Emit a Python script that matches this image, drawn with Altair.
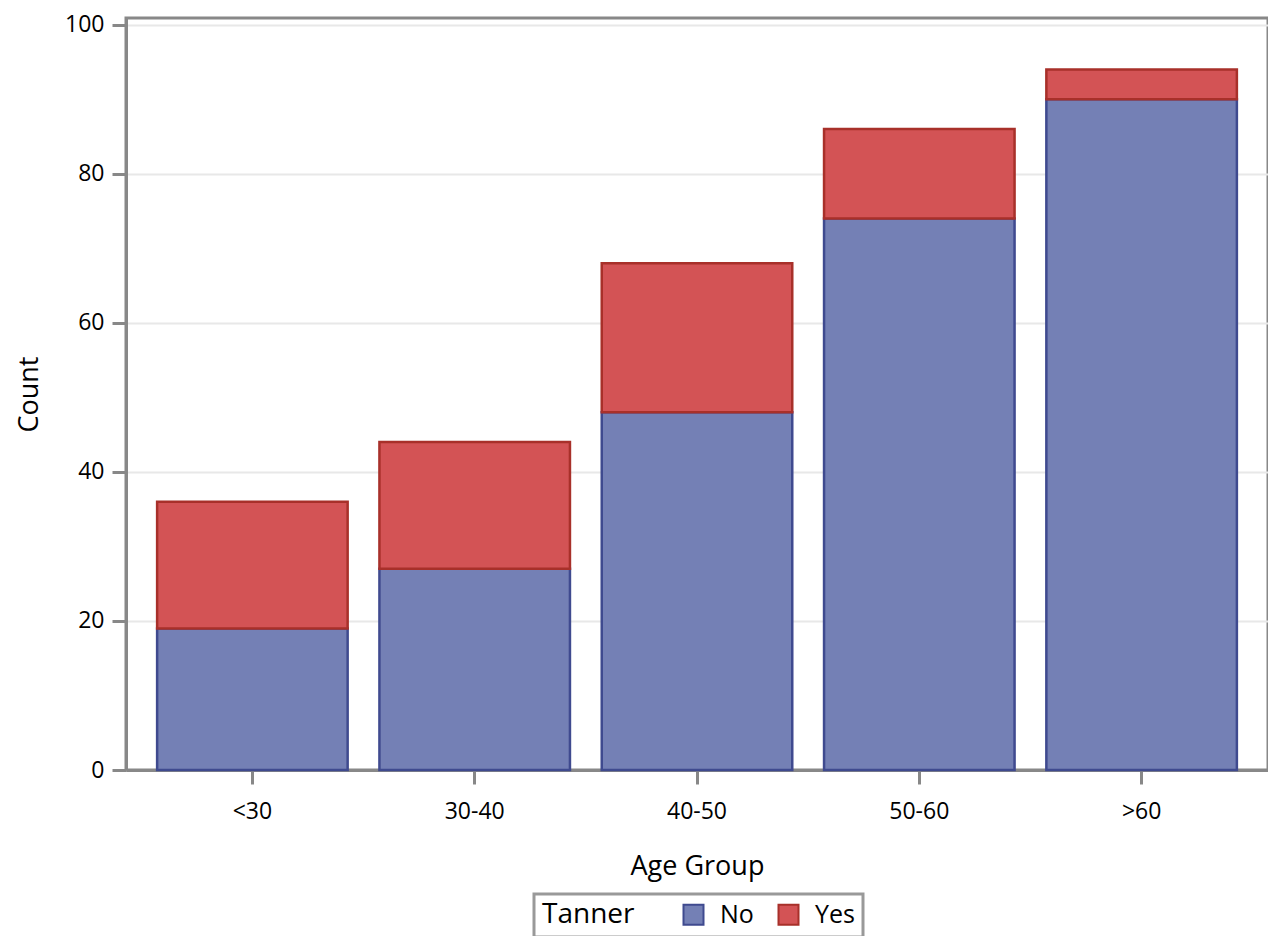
import altair as alt
import pandas as pd

age_groups = ["<30", "30-40", "40-50", "50-60", ">60"]
no_counts = [19, 27, 48, 74, 90]
yes_counts = [17, 17, 20, 12, 4]
tanner_levels = ["No", "Yes"]

rows = []
for g, n, y in zip(age_groups, no_counts, yes_counts):
    rows.append({"Age Group": g, "Tanner": "No", "Count": n})
    rows.append({"Age Group": g, "Tanner": "Yes", "Count": y})
df = pd.DataFrame(rows)

FONT = "Open Sans"
fill_scale = alt.Scale(domain=tanner_levels, range=["#7480b5", "#d35355"])
stroke_scale = alt.Scale(domain=tanner_levels, range=["#3f4a8f", "#a8302a"])

leg = alt.Legend(title="Tanner", orient="none", legendX=408, legendY=876,
                 direction="horizontal", titleOrient="left")

chart = alt.Chart(df).mark_bar(strokeWidth=2.5, opacity=1).encode(
    x=alt.X("Age Group:N", sort=age_groups,
            scale=alt.Scale(paddingInner=0.143, paddingOuter=0.14),
            axis=alt.Axis(title="Age Group", labelAngle=0, labelPadding=16,
                          titlePadding=30, grid=False)),
    y=alt.Y("Count:Q", stack="zero",
            scale=alt.Scale(domain=[0, 100.9], nice=False),
            axis=alt.Axis(title="Count", values=[0, 20, 40, 60, 80, 100],
                          labelPadding=8, titlePadding=21)),
    fill=alt.Fill("Tanner:N", scale=fill_scale, legend=leg),
    stroke=alt.Stroke("Tanner:N", scale=stroke_scale, legend=leg),
    order=alt.Order("Tanner:N", sort="ascending"),
).properties(
    width=1142, height=752,
    autosize=alt.AutoSizeParams(type="none"),
    padding={"left": 118, "top": 10, "right": 0, "bottom": 166},
).configure_view(
    stroke="#888888", strokeWidth=3,
).configure_axis(
    labelFont=FONT, titleFont=FONT, labelFontSize=23, titleFontSize=27,
    titleFontWeight="normal", labelColor="#000000", titleColor="#000000",
    domainColor="#888888", domainWidth=3, tickColor="#888888", tickWidth=3,
    tickSize=14, gridColor="#e8e8e8", gridWidth=2,
).configure_legend(
    labelFont=FONT, titleFont=FONT, labelFontSize=25, titleFontSize=28,
    titleFontWeight="normal", labelColor="#000000", titleColor="#000000",
    strokeColor="#999999", strokeWidth=3, padding=8, symbolType="square",
    symbolSize=400, symbolStrokeWidth=2, titlePadding=46, columnPadding=20,
    labelOffset=14, symbolOpacity=1,
)

chart.save("out.html", embed_options={"renderer": "svg", "actions": False})
